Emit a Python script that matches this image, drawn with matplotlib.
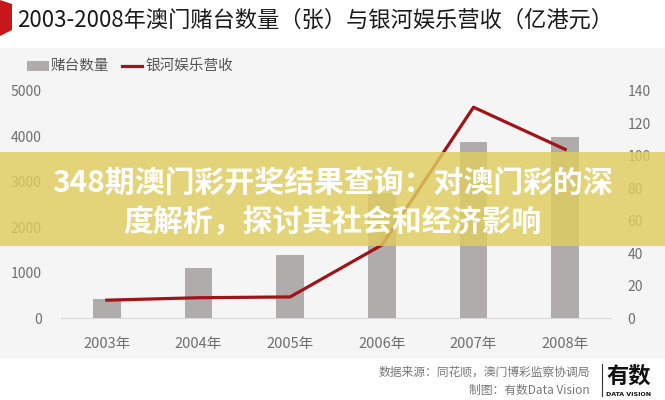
import matplotlib
matplotlib.use("Agg")
import matplotlib.pyplot as plt
from matplotlib.patches import Rectangle, Polygon
from matplotlib.lines import Line2D

plt.rcParams['font.family'] = ['Noto Sans CJK SC', 'DejaVu Sans']

# data
years = ['2003年', '2004年', '2005年', '2006年', '2007年', '2008年']
tables = [424, 1092, 1388, 2762, 3880, 3990]          # 赌台数量（张）
revenue = [11, 12.5, 13, 45, 130, 104]                 # 银河娱乐营收（亿港元）
left_ticks = [0, 1000, 2000, 3000, 4000, 5000]
right_ticks = [0, 20, 40, 60, 80, 100, 120, 140]

bar_color = '#b0acab'
line_color = '#a01418'
tick_color = '#6e6e6e'

fig = plt.figure(figsize=(6.65, 4.0), dpi=100)
fig.patch.set_facecolor('white')

# light grey panel behind the chart
fig.add_artist(Rectangle((0, 1 - 358/400), 1, 310/400, transform=fig.transFigure,
                         facecolor='#f5f5f5', edgecolor='none', zorder=-5))
# red corner mark
fig.add_artist(Polygon([(0, 1), (12/665, 1 - 4/400), (12/665, 1 - 30/400), (0, 1 - 36/400)],
                       closed=True, transform=fig.transFigure, facecolor='#c8161d',
                       edgecolor='none'))

fig.text(17/665, 1 - 20/400, '2003-2008年澳门赌台数量（张）与银河娱乐营收（亿港元）',
         fontsize=16, fontweight='medium', color='#1a1a1a', va='center', ha='left')

ax = fig.add_axes([61/665, 1 - 318/400, 550/665, 227/400])
ax.set_facecolor('none')
x = range(len(years))
ax.bar(x, tables, width=0.3, color=bar_color, zorder=2)
ax.set_xlim(-0.5, len(years) - 0.5)
ax.set_ylim(0, 5000)
ax.set_yticks(left_ticks)
ax.set_xticks(list(x))
ax.set_xticklabels(years)
for s in ['top', 'left', 'right']:
    ax.spines[s].set_visible(False)
ax.spines['bottom'].set_color('#d9d9d9')
ax.tick_params(axis='both', length=0, colors=tick_color, labelsize=10)
ax.tick_params(axis='x', pad=14, labelsize=10.5)
ax.tick_params(axis='y', pad=14)

ax2 = ax.twinx()
ax2.plot(x, revenue, color=line_color, lw=2.3, zorder=3)
ax2.set_ylim(0, 140)
ax2.set_yticks(right_ticks)
for s in ['top', 'left', 'right', 'bottom']:
    ax2.spines[s].set_visible(False)
ax2.tick_params(axis='y', length=0, colors=tick_color, labelsize=10, pad=12)

# legend
fig.add_artist(Rectangle((27/665, 1 - 71/400), 22/665, 10/400, transform=fig.transFigure,
                         facecolor=bar_color, edgecolor='none'))
fig.text(51/665, 1 - 66/400, '赌台数量', fontsize=10.5, color='#555555', va='center')
fig.add_artist(Line2D([122/665, 142/665], [1 - 66/400, 1 - 66/400], transform=fig.transFigure,
                      color=line_color, lw=2.3))
fig.text(145/665, 1 - 66/400, '银河娱乐营收', fontsize=10.5, color='#555555', va='center')

# overlay banner
fig.add_artist(Rectangle((0, 1 - 246/400), 1, 94/400, transform=fig.transFigure,
                         facecolor='#dfcd5e', alpha=0.82, edgecolor='none', zorder=10))
fig.text(0.5, 1 - 183/400, '348期澳门彩开奖结果查询：对澳门彩的深', fontsize=21.5,
         fontweight='bold', color='white', ha='center', va='center', zorder=11)
fig.text(0.5, 1 - 222/400, '度解析，探讨其社会和经济影响', fontsize=21.5,
         fontweight='bold', color='white', ha='center', va='center', zorder=11)

# footer
fig.text(590/665, 1 - 372/400, '数据来源：同花顺，澳门博彩监察协调局', fontsize=8.5,
         color='#777777', ha='right', va='center')
fig.text(590/665, 1 - 390/400, '制图：有数Data Vision', fontsize=8.5,
         color='#777777', ha='right', va='center')
fig.add_artist(Line2D([602/665, 602/665], [1 - 364/400, 1 - 396/400], transform=fig.transFigure,
                      color='#333333', lw=0.8))
fig.text(629/665, 1 - 376/400, '有数', fontsize=16, fontweight='bold', color='#111111',
         ha='center', va='center')
fig.text(629/665, 1 - 394/400, 'DATA VISION', fontsize=4.5, fontweight='bold', color='#111111',
         ha='center', va='center', family='DejaVu Sans')

fig.savefig('out.png', dpi=100)
